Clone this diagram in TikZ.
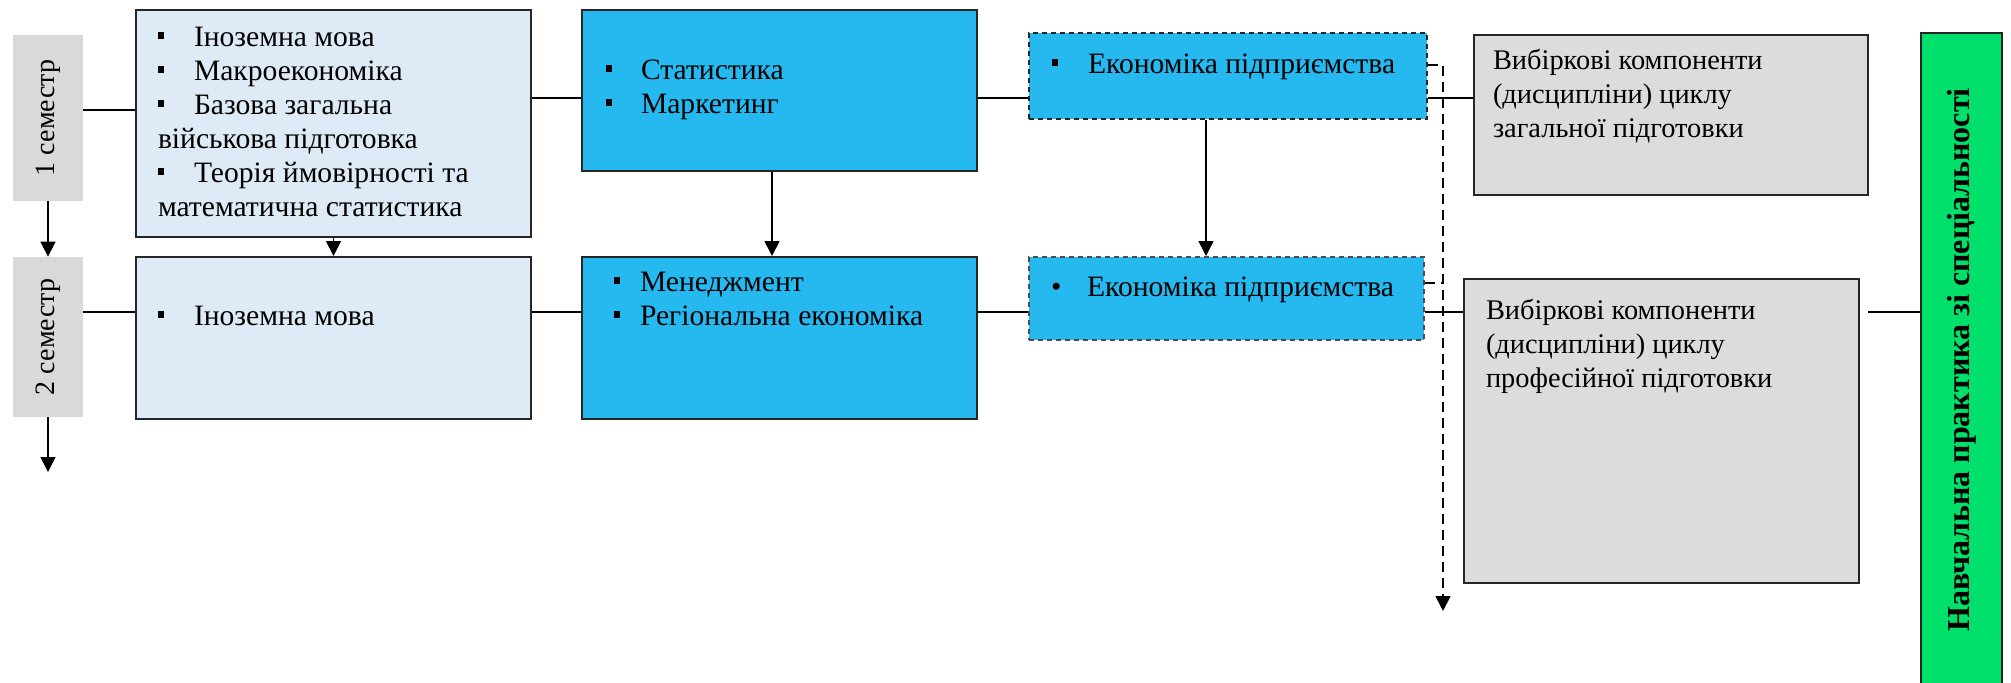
\documentclass[tikz,border=0pt]{standalone}
\usepackage{fontspec}
\setmainfont{Liberation Serif}
\usetikzlibrary{positioning,arrows.meta}

\definecolor{semgray}{RGB}{217,217,217}
\definecolor{paleblue}{RGB}{222,234,246}
\definecolor{skyblue}{RGB}{37,185,240}
\definecolor{optgray}{RGB}{220,220,220}
\definecolor{practgreen}{RGB}{0,224,106}

\newcommand{\sqbullet}{\raisebox{3.6pt}{\rule{3.2pt}{3.2pt}}}
\newcommand{\sqitem}[1][18pt]{\makebox[#1][l]{\sqbullet}}
\newcommand{\rditem}[1][18pt]{\makebox[#1][l]{\textbullet}}
% width, height, left margin, first baseline, body
\newcommand{\cellbody}[5]{\parbox[t][#2][t]{#1}{\raggedright\leftskip=#3\relax\rule{0pt}{#4}#5}}

\begin{document}
\begin{tikzpicture}[x=0.5pt,y=-0.5pt,
  every node/.style={font=\fontsize{14}{17}\selectfont},
  cell/.style={draw=black!85,line width=1pt,inner sep=0pt,anchor=north west,
    font=\fontsize{14.8}{17}\selectfont},
  semester/.style={fill=semgray,inner sep=0pt,minimum width=35pt},
  core/.style={cell,fill=paleblue},
  major/.style={cell,fill=skyblue},
  elective/.style={cell,fill=skyblue,dash pattern=on 2.5pt off 2pt},
  optional/.style={cell,fill=optgray,font=\fontsize{14.2}{17}\selectfont},
  link/.style={line width=0.9pt},
  arr/.style={line width=0.8pt,-{Triangle[width=7.5pt,length=7.5pt]}}]
\useasboundingbox (0,0) rectangle (2011,682);

% semesters
\node[semester,minimum height=83pt] (sem1) at (48,118) {\rotatebox{90}{1 семестр}};
\node[semester,minimum height=80pt] (sem2) at (48,337) {\rotatebox{90}{2 семестр}};

% general training
\node[core] (gen1) at (135,9) {\cellbody{197.5pt}{113.5pt}{11pt}{18pt}{%
  \sqitem Іноземна мова\par
  \sqitem Макроекономіка\par
  \sqitem Базова загальна\\військова підготовка\par
  \sqitem Теорія ймовірності та\\математична статистика}};
\node[core] (gen2) at (135,256) {\cellbody{197.5pt}{81pt}{11pt}{34pt}{\sqitem Іноземна мова}};

% professional training
\node[major] (prof1) at (581,9) {\cellbody{197.5pt}{80.5pt}{12pt}{34.5pt}{%
  \sqitem[17.5pt]Статистика\par
  \sqitem[17.5pt]Маркетинг}};
\node[major] (prof2) at (581,256) {\cellbody{197.5pt}{81pt}{16pt}{17pt}{%
  \sqitem[13pt]Менеджмент\par
  \sqitem[13pt]Регіональна економіка}};

\node[elective] (ent1) at (1028,32) {\cellbody{199pt}{43pt}{11.5pt}{20pt}{\sqitem Економіка підприємства}};
\node[elective,draw=black!70] (ent2) at (1028,256) {\cellbody{197.5pt}{41.5pt}{11pt}{19.5pt}{\rditem Економіка підприємства}};

% elective blocks
\node[optional] (opt1) at (1473,34) {\cellbody{197pt}{80pt}{9.5pt}{17pt}{%
  Вибіркові компоненти\\(дисципліни) циклу\\загальної підготовки}};
\node[optional] (opt2) at (1463,278) {\cellbody{197.5pt}{152pt}{11pt}{20pt}{%
  Вибіркові компоненти\\(дисципліни) циклу\\професійної підготовки}};

\node[cell,fill=practgreen,minimum width=40.5pt,minimum height=327pt] (pract) at (1920,32)
  {\rotatebox{90}{\fontsize{16}{19}\selectfont\bfseries Навчальна практика зі спеціальності}};

\coordinate (row1) at (0,98);
\coordinate (row2) at (0,312);
\coordinate (s1) at (0,110);
\coordinate (next) at (48,472);
\coordinate (dtop) at (1443,65);
\coordinate (dmid) at (1443,283);
\coordinate (dend) at (1443,611);
\coordinate (fend) at (1868,312);

\draw[link] (sem1.east |- s1) -- (gen1.west |- s1);
\draw[link] (sem2.east |- row2) -- (gen2.west |- row2);
\draw[link] (gen1.east |- row1) -- (prof1.west |- row1);
\draw[link] (gen2.east |- row2) -- (prof2.west |- row2);
\draw[link] (prof1.east |- row1) -- (ent1.west |- row1);
\draw[link] (prof2.east |- row2) -- (ent2.west |- row2);
\draw[link] (ent1.east |- row1) -- (opt1.west |- row1);
\draw[link] (ent2.east |- row2) -- (opt2.west |- row2);
\draw[link] (fend) -- (pract.west |- fend);

\draw[arr] (sem1) -- (sem2);
\draw[arr] (sem2) -- (next);
\draw[arr] (gen1) -- (gen2);
\draw[arr] (prof1.south -| 772,0) -- (prof2.north -| 772,0);
\draw[arr] (ent1.south -| 1206,0) -- (ent2.north -| 1206,0);

\draw[arr,dash pattern=on 5pt off 3pt] (ent1.east |- dtop) -- (dtop) -- (dend);
\draw[link,dash pattern=on 5pt off 3pt] (ent2.east |- dmid) -- (dmid);
\end{tikzpicture}
\end{document}
